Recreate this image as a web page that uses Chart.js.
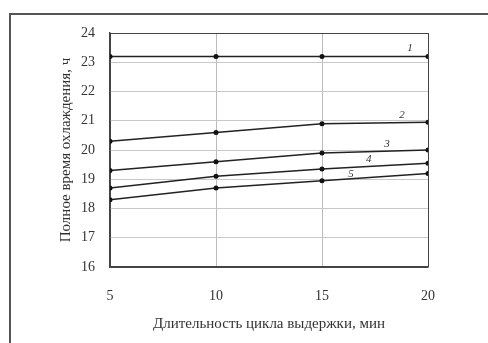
<!DOCTYPE html>
<html><head><meta charset="utf-8">
<script src="https://cdn.jsdelivr.net/npm/chart.js@4/dist/chart.umd.min.js"></script>
<style>
html,body{margin:0;padding:0;background:#fff;}
#wrap{position:relative;width:488px;height:343px;overflow:hidden;}
#frame{position:absolute;left:9px;top:13px;width:600px;height:400px;border:2px solid #555;box-sizing:border-box;}
canvas{position:absolute;left:0;top:0;}
</style></head>
<body><div id="wrap"><div id="frame"></div><canvas id="c" width="488" height="343"></canvas></div>
<script>
const xValues = [5, 10, 15, 20];
const series1 = [23.2, 23.2, 23.2, 23.2];
const series2 = [20.3, 20.6, 20.9, 20.95];
const series3 = [19.3, 19.6, 19.9, 20.0];
const series4 = [18.7, 19.1, 19.35, 19.55];
const series5 = [18.3, 18.7, 18.95, 19.2];
const curveNames = ['1', '2', '3', '4', '5'];
const labelX = [19.15, 18.77, 18.07, 17.2, 16.37];
const labelY = [23.47, 21.19, 20.2, 19.68, 19.19];
const xTitle = 'Длительность цикла выдержки, мин';
const yTitle = 'Полное время охлаждения, ч';

const allSeries = [series1, series2, series3, series4, series5];
const datasets = allSeries.map((s, i) => ({
  label: curveNames[i],
  data: xValues.map((x, j) => ({x: x, y: s[j]})),
  borderColor: '#222',
  borderWidth: 1.5,
  pointRadius: 2.5,
  pointBackgroundColor: '#111',
  pointBorderColor: '#111',
  pointBorderWidth: 0,
  tension: 0,
  fill: false
}));

const curveLabels = {
  id: 'curveLabels',
  afterDatasetsDraw(chart) {
    const ctx = chart.ctx, xs = chart.scales.x, ys = chart.scales.y;
    ctx.save();
    ctx.fillStyle = '#333';
    ctx.font = 'italic 11px "Liberation Serif", serif';
    ctx.textAlign = 'center';
    ctx.textBaseline = 'middle';
    curveNames.forEach((n, i) => {
      ctx.fillText(n, xs.getPixelForValue(labelX[i]), ys.getPixelForValue(labelY[i]));
    });
    ctx.restore();
  }
};

const serif = '"Liberation Serif", "Times New Roman", serif';
new Chart(document.getElementById('c'), {
  type: 'line',
  data: { datasets },
  options: {
    responsive: false,
    animation: false,
    events: [],
    layout: { padding: { left: 12, top: 33, right: 60, bottom: 10 } },
    plugins: { legend: { display: false }, tooltip: { enabled: false } },
    scales: {
      x: {
        type: 'linear', min: 5, max: 20,
        afterFit(s) { s.height = 66; },
        ticks: { stepSize: 5, color: '#333', padding: 21, font: { family: serif, size: 14 } },
        grid: { drawTicks: false, lineWidth: 1,
          color: c => (c.tick && (c.tick.value === 5 || c.tick.value === 20)) ? '#444' : '#bbb' },
        border: { display: true, color: '#444', width: 1.5 },
        title: { display: true, text: xTitle, color: '#333', padding: { top: 0, bottom: 0 }, font: { family: serif, size: 15 } }
      },
      y: {
        min: 16, max: 24,
        afterFit(s) { s.width = 98; },
        ticks: { stepSize: 1, color: '#333', padding: 15, font: { family: serif, size: 14 } },
        grid: { drawTicks: false, lineWidth: 1,
          color: c => (c.tick && (c.tick.value === 16 || c.tick.value === 24)) ? '#444' : '#c8c8c8' },
        border: { display: true, color: '#444', width: 1.5 },
        title: { display: true, text: yTitle, color: '#333', padding: { top: 45, bottom: 0 }, font: { family: serif, size: 15 } }
      }
    }
  },
  plugins: [curveLabels]
});
</script></body></html>
